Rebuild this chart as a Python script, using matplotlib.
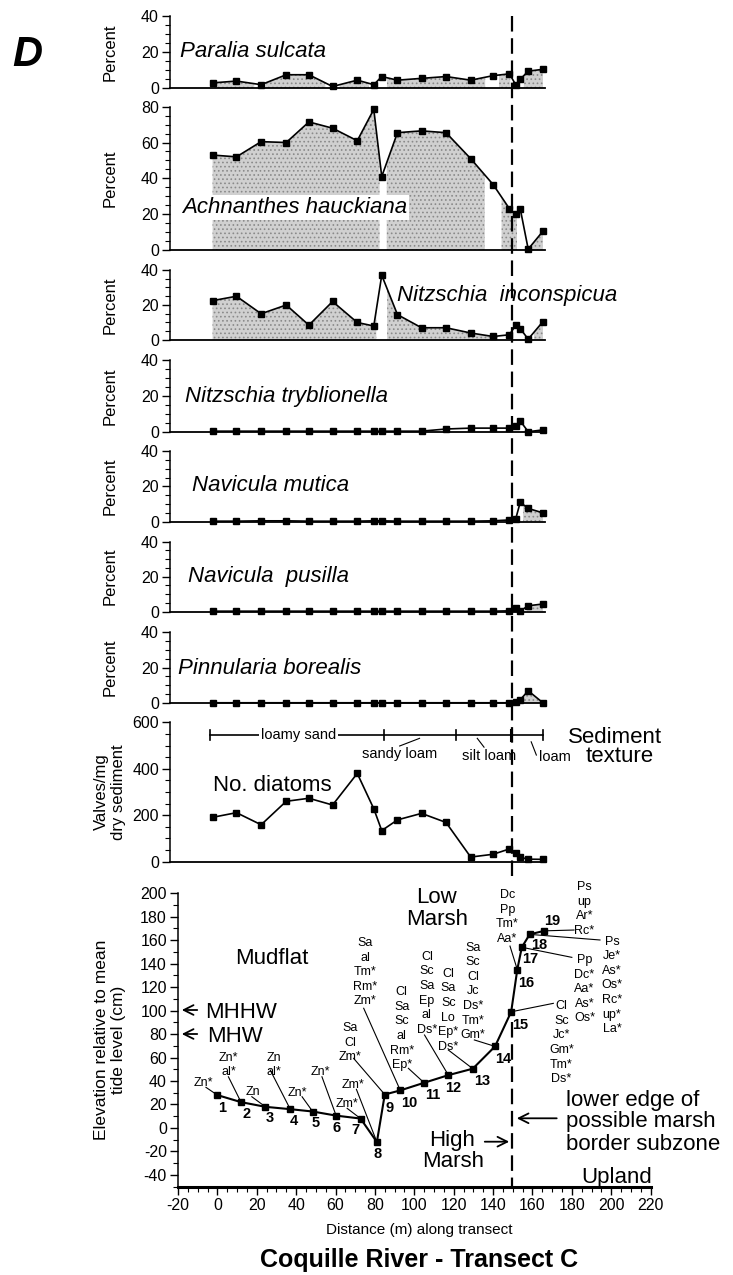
import numpy as np
import matplotlib
matplotlib.use('Agg')
import matplotlib.pyplot as plt
from matplotlib.ticker import MultipleLocator
from matplotlib.lines import Line2D
from matplotlib.patches import FancyArrowPatch

plt.rcParams['font.family'] = ['Liberation Sans', 'DejaVu Sans']
plt.rcParams['hatch.linewidth'] = 0.7
plt.rcParams['axes.unicode_minus'] = False

# ---------------- data ----------------
sample_ids = list(range(1, 20))
distance_m = [0, 12, 24.4, 37, 48.4, 60.3, 72.7, 81, 85, 92.9, 105, 117.3, 129.7,
              141, 149.2, 152.3, 154.6, 158.6, 166]
elevation_cm = [28, 22, 18, 16, 14, 10.5, 8, -12, 28.5, 32, 38.5, 45, 50.5,
                69.5, 99, 135, 154, 165, 168]

paralia_sulcata = [3, 4, 2, 7.5, 7.5, 1, 4.5, 2, 6.5, 4.5, 5.5, 6.5, 4.5, 7, 8, 2, 5, 9.5, 10.5]
achnanthes_hauckiana = [53, 52, 60.5, 60, 71.5, 68, 61, 78.5, 41, 65.5, 66.5, 65.5, 51,
                        36.5, 23, 20, 23, 0.5, 10.5]
nitzschia_inconspicua = [22.5, 25, 15, 20, 8.5, 22, 10, 8, 37, 14.5, 7, 7, 4, 2, 3, 8.5,
                         6.5, 0.5, 10.5]
nitzschia_tryblionella = [0.3, 0.3, 0.3, 0.3, 0.3, 0.3, 0.3, 0.3, 0.3, 0.3, 0.3, 1.5, 2,
                          2, 2, 3, 6, 0, 1]
navicula_mutica = [0.3, 0.3, 0.5, 0.5, 0.3, 0.3, 0.3, 0.5, 0.5, 0.3, 0.3, 0.3, 0.3, 0.5,
                   1, 1.5, 11, 7.5, 5]
navicula_pusilla = [0.3, 0.3, 0.3, 0.3, 0.3, 0.3, 0.3, 0.3, 0.3, 0.3, 0.3, 0.3, 0.3, 0.3,
                    0.5, 1.9, 0.4, 3.4, 4.4]
pinnularia_borealis = [0.3, 0.3, 0.3, 0.3, 0.3, 0.3, 0.3, 0.3, 0.3, 0.3, 0.3, 0.3, 0.3,
                       0.3, 0.3, 1, 2, 7, 0.3]
diatoms_per_mg = [191, 211, 159, 260, 273, 244, 380, 228, 134, 180, 208, 169, 20, 32,
                  55, 36, 19, 11, 10]

species_names = ['Paralia sulcata', 'Achnanthes hauckiana', 'Nitzschia  inconspicua',
                 'Nitzschia tryblionella', 'Navicula mutica', 'Navicula  pusilla',
                 'Pinnularia borealis']
species_values = [paralia_sulcata, achnanthes_hauckiana, nitzschia_inconspicua,
                  nitzschia_tryblionella, navicula_mutica, navicula_pusilla,
                  pinnularia_borealis]

texture_classes = ['loamy sand', 'sandy loam', 'silt loam', 'loam']
texture_bounds_m = [-1.4, 86, 122.5, 150, 166]

plant_codes = [
    ['Zn*'], ['Zn*', 'al*'], ['Zn'], ['Zn', 'al*'], ['Zn*'], ['Zn*'], ['Zm*'], ['Zm*'],
    ['Sa', 'Cl', 'Zm*'],
    ['Sa', 'al', 'Tm*', 'Rm*', 'Zm*'],
    ['Cl', 'Sa', 'Sc', 'al', 'Rm*', 'Ep*'],
    ['Cl', 'Sc', 'Sa', 'Ep', 'al', 'Ds*'],
    ['Cl', 'Sa', 'Sc', 'Lo', 'Ep*', 'Ds*'],
    ['Sa', 'Sc', 'Cl', 'Jc', 'Ds*', 'Tm*', 'Gm*'],
    ['Cl', 'Sc', 'Jc*', 'Gm*', 'Tm*', 'Ds*'],
    ['Dc', 'Pp', 'Tm*', 'Aa*'],
    ['Pp', 'Dc*', 'Aa*', 'As*', 'Os*'],
    ['Ps', 'Je*', 'As*', 'Os*', 'Rc*', 'up*', 'La*'],
    ['Ps', 'up', 'Ar*', 'Rc*'],
]

# ---------------- layout / style ----------------
W, H = 733, 1275
PX2PT = 72 / 100.0

# text block centre (x, y) and leader start (x, y) in elevation-axis data units
code_layout = [
    (-7.1, 39.4, -5.8, 34.6), (5.6, 55, 5.6, 43.6), (18.3, 32.3, 17.5, 26.6),
    (28.5, 55, 26.8, 49.4), (40.4, 30.9, 43, 26.6), (52.3, 48.8, 53.1, 43.6),
    (65.9, 21.5, 65.9, 16.7), (68.9, 38, 70.6, 32.9), (67.5, 74, 69.2, 59.3),
    (75.2, 134, 74.3, 102), (93.6, 85.8, 97.0, 50.8), (106.4, 116, 105.2, 79.2),
    (117.3, 101.6, 117.3, 66.4), (129.8, 117.6, 130.5, 75), (174.7, 74, 170.6, 106.2),
    (147.3, 181.2, 148.6, 155), (186.4, 119.5, 180, 145.4), (200.4, 122.8, 194.3, 160.2),
    (186.4, 187.9, 181.1, 168.7),
]
# sample-number offsets in pixels (dx right, dy down)
number_offsets = [
    (4.3, 13.3), (6, 12.3), (4, 10.7), (4, 11.7), (3.3, 11), (0, 12.3), (-5.3, 11.7),
    (0.7, 11.7), (4.3, 13.3), (9.4, 13), (8.9, 12.7), (4.7, 13), (9.4, 12.3), (8, 12.3),
    (9.3, 13.7), (9, 13.3), (8, 12), (9.3, 10.3), (8.3, -9.7),
]

shade_spans = [
    [(1, 21), (26.8, 56.7), (63.9, 78.5), (87.6, 137), (143.9, 149.6), (156.4, 166)],
    [(0, 83.9), (87.5, 136.8), (145.2, 153), (159.8, 166)],
    [(0, 82.3), (87.7, 143.2), (161.5, 166)],
    [],
    [(156, 166)],
    [(158, 166)],
    [(153, 166)],
]
# (ymax, top px, bottom px, major, minor, label left px, label baseline px)
panel_layout = [
    (40, 16, 88.3, 20, 5, 180, 57),
    (80, 106.7, 250, 20, 5, 182, 212.7),
    (40, 270, 340, 20, 5, 397, 300.7),
    (40, 360, 431.7, 20, 5, 185, 401.7),
    (40, 451, 521.7, 20, 5, 192, 490.7),
    (40, 541.7, 611.7, 20, 5, 188, 581.7),
    (40, 631.7, 703.3, 20, 5, 178, 674),
]

TOP_L, TOP_R = 170, 560
TOP_XLIM = (-21.4, -21.4 + (TOP_R - TOP_L) / 1.99)
SHADE_FC = '#d0d0d0'
SHADE_EC = '#8a8a8a'


def rect(l, t, r, b):
    return [l / W, 1 - b / H, (r - l) / W, (b - t) / H]


def fx(px):
    return px / W


def fy(py):
    return 1 - py / H


fig = plt.figure(figsize=(W / 100, H / 100), dpi=100)


def style_top_axis(ax, ymax, major, minor):
    ax.set_xlim(TOP_XLIM)
    ax.set_ylim(0, ymax)
    ax.patch.set_alpha(0)
    for s in ('top', 'right'):
        ax.spines[s].set_visible(False)
    ax.spines['bottom'].set_bounds(TOP_XLIM[0], 167)
    ax.spines['left'].set_linewidth(1.1)
    ax.spines['bottom'].set_linewidth(1.3)
    ax.set_xticks([])
    ax.yaxis.set_major_locator(MultipleLocator(major))
    ax.yaxis.set_minor_locator(MultipleLocator(minor))
    ax.tick_params(axis='y', which='major', length=6, width=1.0, labelsize=11.5, pad=2)
    ax.tick_params(axis='y', which='minor', length=3.5, width=0.8)


xd = np.linspace(distance_m[0], distance_m[-1], 4000)
for name, vals, spans, (ymax, top, bot, major, minor, lx, lb) in zip(
        species_names, species_values, shade_spans, panel_layout):
    ax = fig.add_axes(rect(TOP_L, top, TOP_R, bot))
    style_top_axis(ax, ymax, major, minor)
    yd = np.interp(xd, distance_m, vals)
    mask = np.zeros_like(xd, dtype=bool)
    for a, b in spans:
        mask |= (xd >= a) & (xd <= b)
    if mask.any():
        ax.fill_between(xd, 0, yd, where=mask, facecolor=SHADE_FC, hatch='....',
                        edgecolor=SHADE_EC, linewidth=0, zorder=1)
    ax.plot(distance_m, vals, color='k', lw=1.2, marker='s', ms=4, clip_on=False, zorder=3)
    fig.text(fx(110), fy((top + bot) / 2), 'Percent', rotation=90, ha='center',
             va='center', fontsize=12)
    kw = {}
    if name.startswith('Achnanthes'):
        kw['bbox'] = dict(facecolor='white', edgecolor='none', pad=1.5)
    fig.text(fx(lx), fy(lb), name, style='italic', fontsize=16, ha='left',
             va='baseline', zorder=5, **kw)

# ---------------- No. diatoms panel ----------------
axd = fig.add_axes(rect(TOP_L, 722.3, TOP_R, 861.7))
style_top_axis(axd, 600, 200, 50)
axd.plot(distance_m, diatoms_per_mg, color='k', lw=1.2, marker='s', ms=4, clip_on=False,
         zorder=3)
fig.text(fx(213), fy(790.7), 'No. diatoms', fontsize=16, ha='left', va='baseline')
fig.text(fx(110), fy(792), 'Valves/mg\ndry sediment', rotation=90, ha='center',
         va='center', fontsize=12, linespacing=1.1)

bar_y = 545
axd.plot([texture_bounds_m[0], texture_bounds_m[-1]], [bar_y, bar_y], color='k', lw=1.2,
         clip_on=False)
for xb in texture_bounds_m:
    axd.plot([xb, xb], [bar_y - 23, bar_y + 23], color='k',
             lw=2.2 if xb == 150 else 1.2, clip_on=False)
axd.text(43.2, bar_y, texture_classes[0], ha='center', va='center', fontsize=10.5,
         bbox=dict(facecolor='white', edgecolor='none', pad=1.2), zorder=4)
axd.text(94, 464, texture_classes[1], ha='center', va='center', fontsize=10.5)
axd.plot([104, 94], [531, 498], color='k', lw=0.8)
axd.text(139, 453, texture_classes[2], ha='center', va='center', fontsize=10.5)
axd.plot([133, 136.4], [531, 493], color='k', lw=0.8)
axd.text(164, 452, texture_classes[3], ha='left', va='center', fontsize=10.5, clip_on=False)
axd.plot([160.1, 162.7], [516, 459], color='k', lw=0.8, clip_on=False)
fig.text(fx(615), fy(742.7), 'Sediment', fontsize=16, ha='center', va='baseline')
fig.text(fx(620), fy(761.7), 'texture', fontsize=16, ha='center', va='baseline')

# ---------------- elevation panel ----------------
axe = fig.add_axes(rect(178, 893.3, 650.6, 1186.6))
axe.patch.set_alpha(0)
axe.set_xlim(-20, 220)
axe.set_ylim(-50, 200)
for s in ('top', 'right'):
    axe.spines[s].set_visible(False)
axe.spines['left'].set_linewidth(1.1)
axe.spines['bottom'].set_linewidth(2.2)
axe.xaxis.set_major_locator(MultipleLocator(20))
axe.xaxis.set_minor_locator(MultipleLocator(5))
axe.yaxis.set_major_locator(MultipleLocator(20))
axe.yaxis.set_minor_locator(MultipleLocator(10))
axe.tick_params(which='major', length=6, width=1.0, labelsize=11.5, pad=2)
axe.tick_params(which='minor', length=3.5, width=0.8)
axe.plot(distance_m, elevation_cm, color='k', lw=1.5, marker='s', ms=4.5, zorder=3,
         clip_on=False)

for sid, d, e, (dx, dy) in zip(sample_ids, distance_m, elevation_cm, number_offsets):
    axe.annotate(str(sid), (d, e), xytext=(dx * PX2PT, -dy * PX2PT),
                 textcoords='offset points', ha='center', va='center',
                 fontsize=10.5, fontweight='bold')

LINE_PX = 14.6
for codes, (cx, cy, lx, ly), d, e in zip(plant_codes, code_layout, distance_m, elevation_cm):
    n = len(codes)
    for i, s in enumerate(codes):
        off = ((n - 1) / 2 - i) * LINE_PX * PX2PT
        axe.annotate(s, (cx, cy), xytext=(0, off), textcoords='offset points',
                     ha='center', va='center_baseline', fontsize=9, annotation_clip=False)
    axe.plot([lx, d], [ly, e], color='k', lw=0.8, clip_on=False)

# region labels
fig.text(fx(272), fy(964), 'Mudflat', fontsize=16, ha='center', va='baseline')
fig.text(fx(437), fy(903.3), 'Low', fontsize=16, ha='center', va='baseline')
fig.text(fx(437), fy(925), 'Marsh', fontsize=16, ha='center', va='baseline')
fig.text(fx(452), fy(1146), 'High', fontsize=16, ha='center', va='baseline')
fig.text(fx(453), fy(1166.7), 'Marsh', fontsize=16, ha='center', va='baseline')
fig.text(fx(205), fy(1017.7), 'MHHW', fontsize=16, ha='left', va='baseline')
fig.text(fx(207), fy(1041.7), 'MHW', fontsize=16, ha='left', va='baseline')
fig.text(fx(566.5), fy(1106), 'lower edge of', fontsize=16, ha='left', va='baseline')
fig.text(fx(566.5), fy(1127.3), 'possible marsh', fontsize=16, ha='left', va='baseline')
fig.text(fx(566.5), fy(1150), 'border subzone', fontsize=16, ha='left', va='baseline')
fig.text(fx(617), fy(1182.7), 'Upland', fontsize=16, ha='center', va='baseline')

arrow_kw = dict(arrowstyle='->,head_length=0.5,head_width=0.25', lw=1.3, color='k')
for (x0, y0, x1, y1) in [(200, 1010, 179, 1010), (200, 1034, 179, 1034),
                         (482, 1141.7, 512, 1141.7), (559.5, 1118.3, 514, 1118.3)]:
    fig.add_artist(FancyArrowPatch(
        (fx(x0), fy(y0)), (fx(x1), fy(y1)), transform=fig.transFigure,
        mutation_scale=14, **arrow_kw))

fig.text(fx(110), fy(1040), 'Elevation relative to mean\ntide level (cm)', rotation=90,
         ha='center', va='center', fontsize=12.5, linespacing=1.1)
fig.text(fx(419), fy(1234), 'Distance (m) along transect', fontsize=11, ha='center',
         va='baseline')
fig.text(fx(419), fy(1267), 'Coquille River - Transect C', fontsize=18, fontweight='bold',
         ha='center', va='baseline')
fig.text(fx(27), fy(55), 'D', fontsize=30, fontweight='bold', style='italic',
         ha='center', va='center')

# boundary dashed line at 150 m (interrupted where the profile climbs along it)
for y_top, y_bot in [(16, 882), (1022, 1186.6)]:
    fig.add_artist(Line2D([fx(512), fx(512)], [fy(y_top), fy(y_bot)], color='k', lw=1.6,
                          dashes=(7, 3), transform=fig.transFigure))

fig.savefig('out.png', dpi=100)
